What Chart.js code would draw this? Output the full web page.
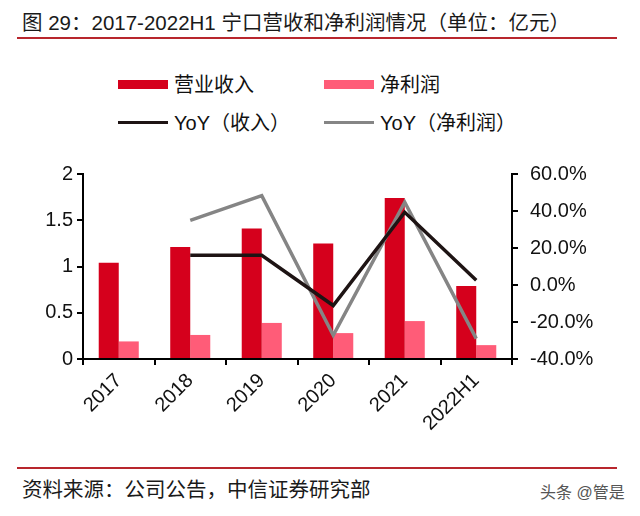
<!DOCTYPE html>
<html>
<head>
<meta charset="utf-8">
<script src="https://cdn.jsdelivr.net/npm/chart.js@4/dist/chart.umd.min.js"></script>
<style>
  body { margin: 0; width: 640px; height: 516px; background: #fff; position: relative; overflow: hidden;
         font-family: Arial, "Liberation Sans", "Noto Sans CJK SC", sans-serif; color: #111; }
  .title { position: absolute; left: 22px; top: 10px; font-size: 20.5px; color: #1a1a1a; white-space: nowrap; line-height: 26px; }
  .rule { position: absolute; left: 17px; width: 600px; height: 2px; background: #b8262d; }
  .legend-item { position: absolute; font-size: 20px; line-height: 26px; white-space: nowrap; }
  .legend-item i { display: inline-block; width: 50px; vertical-align: middle; margin-right: 6px; position: relative; top: -2px; }
  .source { position: absolute; left: 22px; top: 477px; font-size: 20.5px; line-height: 26px; color: #1a1a1a; white-space: nowrap; }
  .mark { position: absolute; left: 540px; top: 482px; font-size: 16px; line-height: 22px; color: #555; white-space: nowrap; }
  #wrap { position: absolute; left: 0; top: 150px; width: 640px; height: 316px; }
</style>
</head>
<body>
<div class="title">图 29：2017-2022H1 宁口营收和净利润情况（单位：亿元）</div>
<div class="rule" style="top:37px"></div>

<div class="legend-item" style="left:118px;top:72px"><i style="height:9px;background:#d5001c"></i>营业收入</div>
<div class="legend-item" style="left:324px;top:72px"><i style="height:9px;background:#ff5c78"></i>净利润</div>
<div class="legend-item" style="left:118px;top:110px"><i style="height:3px;background:#1e1414"></i>YoY（收入）</div>
<div class="legend-item" style="left:324px;top:110px"><i style="height:3px;background:#858585"></i>YoY（净利润）</div>

<div id="wrap"><canvas id="chart"></canvas></div>

<div class="rule" style="top:467px"></div>
<div class="source">资料来源：公司公告，中信证券研究部</div>
<div class="mark">头条 @管是</div>

<script>
// categories and values
const years = ['2017', '2018', '2019', '2020', '2021', '2022H1'];
const revenue = [1.04, 1.21, 1.41, 1.25, 1.74, 0.79];     // 亿元
const netProfit = [0.19, 0.26, 0.39, 0.28, 0.41, 0.15];   // 亿元
const revenueYoY = [null, 16.1, 16.1, -11.1, 39.3, 2.6];   // %
const profitYoY = [null, 34.9, 48.3, -27.2, 44.8, -29.0];  // %

const leftTicks = { min: 0, max: 2, step: 0.5 };
const rightTicks = { min: -40, max: 60, step: 20 };

const axisFont = { family: 'Arial, "Liberation Sans", sans-serif', size: 20 };

new Chart(document.getElementById('chart'), {
    type: 'bar',
    data: {
        labels: years,
        datasets: [
            { type: 'line', label: 'YoY（收入）', data: revenueYoY, yAxisID: 'y1',
              borderColor: '#1e1414', borderWidth: 3.5, pointRadius: 0, tension: 0, order: 0 },
            { type: 'line', label: 'YoY（净利润）', data: profitYoY, yAxisID: 'y1',
              borderColor: '#858585', borderWidth: 3.5, pointRadius: 0, tension: 0, order: 0 },
            { label: '营业收入', data: revenue, backgroundColor: '#d5001c', yAxisID: 'y', order: 1,
              barPercentage: 1, categoryPercentage: 0.56 },
            { label: '净利润', data: netProfit, backgroundColor: '#ff5c78', yAxisID: 'y', order: 1,
              barPercentage: 1, categoryPercentage: 0.56 }
        ]
    },
    options: {
        responsive: true,
        maintainAspectRatio: false,
        animation: false,
        layout: { padding: { top: 17, left: 0, right: 0, bottom: 0 } },
        plugins: {
            legend: { display: false },
            tooltip: { enabled: false }
        },
        scales: {
            x: {
                offset: true,
                grid: { offset: true, drawOnChartArea: false, drawTicks: true, tickLength: 6, color: '#000', lineWidth: 2 },
                border: { display: true, color: '#000', width: 2 },
                ticks: { color: '#111', font: axisFont, maxRotation: 45, minRotation: 45, padding: 4 },
                afterFit: function(scale) { scale.height = 107; }
            },
            y: {
                position: 'left',
                min: leftTicks.min,
                max: leftTicks.max,
                grid: { drawOnChartArea: false, drawTicks: true, tickLength: 6, color: '#000', lineWidth: 2 },
                border: { display: true, color: '#000', width: 2 },
                ticks: {
                    stepSize: leftTicks.step, color: '#111', font: axisFont, padding: 4,
                    callback: function(value) { return String(value); }
                },
                afterFit: function(scale) { scale.width = 83; }
            },
            y1: {
                position: 'right',
                min: rightTicks.min,
                max: rightTicks.max,
                grid: { drawOnChartArea: false, drawTicks: true, tickLength: 6, color: '#000', lineWidth: 2 },
                border: { display: true, color: '#000', width: 2 },
                ticks: {
                    stepSize: rightTicks.step, color: '#111', font: axisFont, padding: 12,
                    callback: function(value) { return value.toFixed(1) + '%'; }
                },
                afterFit: function(scale) { scale.width = 128; }
            }
        }
    }
});
</script>
</body>
</html>
